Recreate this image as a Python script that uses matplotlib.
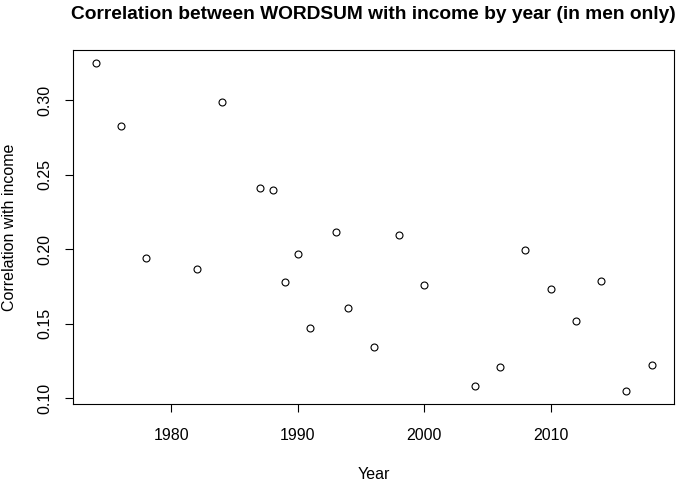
import matplotlib.pyplot as plt

plt.rcParams['font.family'] = ['Liberation Sans', 'DejaVu Sans']

# Años de la encuesta
years = [1974, 1976, 1978, 1982, 1984, 1987, 1988, 1989, 1990, 1991, 1993, 1994,
         1996, 1998, 2000, 2004, 2006, 2008, 2010, 2012, 2014, 2016, 2018]

# Correlación WORDSUM - ingreso (solo hombres)
corr = [0.325, 0.283, 0.194, 0.187, 0.299, 0.241, 0.240, 0.178, 0.197, 0.147, 0.2115, 0.1606,
        0.1345, 0.2094, 0.1757, 0.108, 0.121, 0.1995, 0.1733, 0.152, 0.1786, 0.1047, 0.1222]

xticks = [1980, 1990, 2000, 2010]
yticks = [0.10, 0.15, 0.20, 0.25, 0.30]
ytick_labels = ['0.10', '0.15', '0.20', '0.25', '0.30']

fig = plt.figure(figsize=(6.91, 4.86), dpi=100)
ax = fig.add_axes([0.1061, 0.1681, 0.8693, 0.729])

ax.plot(years, corr, 'o', markerfacecolor='none', markeredgecolor='black',
        markersize=5, markeredgewidth=0.8)

# rango como en R (4% extra)
xr = max(years) - min(years)
yr = max(corr) - min(corr)
ax.set_xlim(min(years) - 0.04 * xr, max(years) + 0.04 * xr)
ax.set_ylim(min(corr) - 0.04 * yr, max(corr) + 0.04 * yr)

ax.set_xticks(xticks)
ax.set_yticks(yticks)
ax.set_yticklabels(ytick_labels, rotation=90, va='center')
ax.tick_params(axis='both', length=5.5, width=0.8, labelsize=11.5)
ax.tick_params(axis='x', pad=11.5)
ax.tick_params(axis='y', pad=9.5)
for s in ax.spines.values():
    s.set_linewidth(0.8)

ax.set_xlabel('Year', fontsize=11.5, labelpad=17)
ax.set_ylabel('Correlation with income', fontsize=11.5, labelpad=14.5)
ax.set_title('Correlation between WORDSUM with income by year (in men only)',
             fontsize=13.8, fontweight='bold', pad=22)

fig.savefig('out.png', dpi=100)
